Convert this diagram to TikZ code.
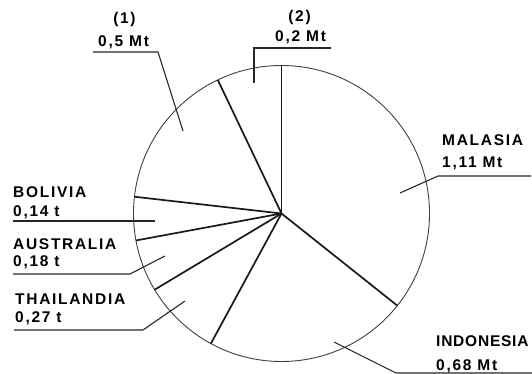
\documentclass[tikz,border=0pt]{standalone}
\usepackage{fontspec}
\setmainfont{Liberation Sans}[LetterSpace=11]
\usetikzlibrary{calc}

\begin{document}
\begin{tikzpicture}[x=1pt,y=1pt,
  rim/.style={draw=black!75,line width=0.9pt},
  spoke/.style={draw=black!90,line width=1.7pt},
  leader/.style={draw=black!85,line width=1.1pt},
  lbl/.style={anchor=base west,inner sep=0pt,font=\fontsize{15.5}{18}\selectfont\bfseries},
  head/.style={anchor=base,inner sep=0pt,font=\fontsize{15.5}{18}\selectfont\bfseries}]
\useasboundingbox (0,0) rectangle (532,374);
\coordinate (c) at (281.5,160.5);
\draw[rim] (c) circle (148pt);
% slice borders
\draw[spoke] (c) -- ($(c)+(90:148pt)$);
\draw[spoke] (c) -- ($(c)+(-38.5:148pt)$);
\draw[spoke] (c) -- ($(c)+(241.5:148pt)$);
\draw[spoke] (c) -- ($(c)+(211:148pt)$);
\draw[spoke] (c) -- ($(c)+(190.5:148pt)$);
\draw[spoke] (c) -- ($(c)+(173.5:148pt)$);
\draw[spoke] (c) -- ($(c)+(115.5:148pt)$);
% labels
\node[head] (one) at (124.5,350) {(1)};
\node[lbl] (one-v) at (98,327) {0,5 Mt};
\node[head] (two) at (299.5,352) {(2)};
\node[lbl] (two-v) at (275,332) {0,2 Mt};
\node[lbl] (mal) at (442,228) {MALASIA};
\node[lbl] (mal-v) at (442,206) {1,11 Mt};
\node[lbl] (ind) at (436,27) {\addfontfeature{LetterSpace=5}INDONESIA};
\node[lbl] (ind-v) at (436,3) {0,68 Mt};
\node[lbl] (bol) at (13,176) {BOLIVIA};
\node[lbl] (bol-v) at (13,157) {0,14 t};
\node[lbl] (aus) at (13,124) {AUSTRALIA};
\node[lbl] (aus-v) at (13,107) {0,18 t};
\node[lbl] (tha) at (15,69) {THAILANDIA};
\node[lbl] (tha-v) at (15,51) {0,27 t};
% leaders
\coordinate (one-a) at (183,243); \coordinate (one-b) at (158,322); \coordinate (one-c) at (93,322);
\coordinate (two-a) at (254,291); \coordinate (two-b) at (254,326); \coordinate (two-c) at (331,326);
\coordinate (mal-a) at (400,181); \coordinate (mal-b) at (438,198); \coordinate (mal-c) at (531,198);
\coordinate (ind-a) at (334,32);  \coordinate (ind-b) at (396,1);   \coordinate (ind-c) at (532,1);
\coordinate (bol-a) at (155,153); \coordinate (bol-c) at (13,153);
\coordinate (aus-a) at (165,118); \coordinate (aus-b) at (130,100); \coordinate (aus-c) at (13,100);
\coordinate (tha-a) at (185,73);  \coordinate (tha-b) at (143,44);  \coordinate (tha-c) at (14,44);
\draw[leader] (one-a) -- (one-b) -- (one-c);
\draw[leader] (two-a) -- (two-b) -- (two-c);
\draw[leader] (mal-a) -- (mal-b) -- (mal-c);
\draw[leader] (ind-a) -- (ind-b) -- (ind-c);
\draw[leader] (bol-a) -- (bol-c);
\draw[leader] (aus-a) -- (aus-b) -- (aus-c);
\draw[leader] (tha-a) -- (tha-b) -- (tha-c);
\end{tikzpicture}
\end{document}
